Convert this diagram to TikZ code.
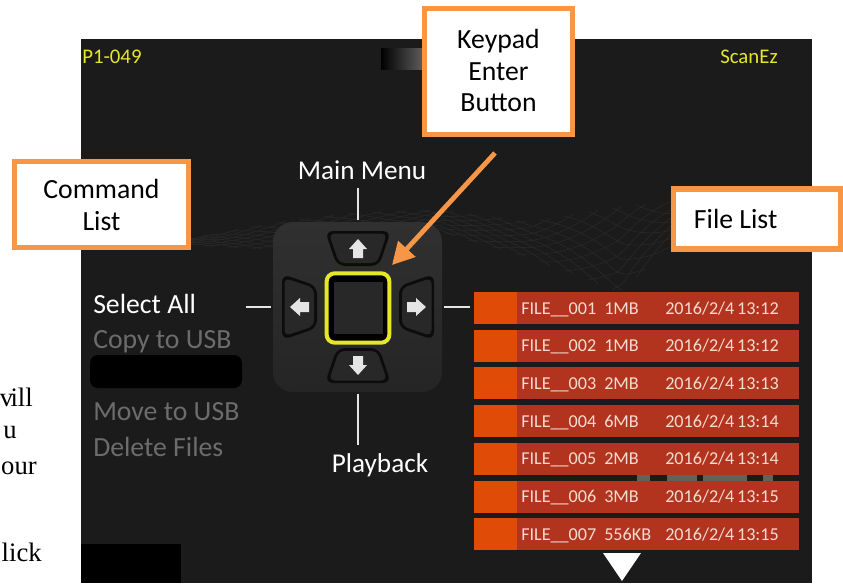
\documentclass[tikz,border=0pt]{standalone}
\usepackage{fontspec}
\setmainfont{Carlito}
\newfontfamily\timesf{Liberation Serif}
\usetikzlibrary{arrows.meta,calc}
\definecolor{screen}{HTML}{1B1B1B}
\definecolor{callorange}{HTML}{F79646}
\definecolor{rowred}{HTML}{B2341F}
\definecolor{rowsq}{HTML}{E04C08}
\definecolor{rowtxt}{HTML}{F5DCD0}
\definecolor{yel}{HTML}{E6E62A}
\definecolor{menugray}{HTML}{6C6C6C}
\definecolor{mesh}{HTML}{2A2A2A}
\definecolor{padtop}{HTML}{303030}
\definecolor{padbot}{HTML}{252525}
\definecolor{btnfill}{HTML}{282828}
\definecolor{btnedge}{HTML}{0C0C0C}
\pgfmathdeclarefunction{topedge}{1}{\pgfmathparse{#1<280?238-(#1-190)/90*16:(#1<360?222-(#1-280)/80*10:(#1<440?212-(#1-360)/80*2:(#1<530?210+(#1-440)/90*12:(#1<620?222-(#1-530)/90*16:206-(#1-620)/100*8))))}}
\pgfmathdeclarefunction{botedge}{1}{\pgfmathparse{#1<280?245+(#1-190)/90*5:(#1<440?250-(#1-280)/160*18:(#1<530?232+(#1-440)/90*26:(#1<620?258+(#1-530)/90*34:292-(#1-620)/100*90)))}}
\tikzset{
  callout/.style={draw=callorange,line width=3.9pt,fill=white,align=center,font=\fontsize{20.8}{24}\selectfont,text=black,inner sep=0pt},
  scrlabel/.style={text=white,font=\fontsize{20.4}{24}\selectfont,inner sep=0pt},
  menuitem/.style={anchor=west,text=menugray,font=\fontsize{20.8}{24}\selectfont,inner sep=0pt},
  stub/.style={draw=white!90!black,line width=1.9pt},
  rowtext/.style={anchor=base west,text=rowtxt,font=\fontsize{13.6}{16}\selectfont,inner sep=0pt},
  yellabel/.style={text=yel,font=\fontsize{15.6}{18}\selectfont,inner sep=0pt},
  btnouter/.style={fill=btnedge,rounded corners=6pt},
  btninner/.style={fill=btnfill,rounded corners=4pt},
  arrowglyph/.style={fill=white!90!black,draw=none},
  serif/.style={anchor=east,text=black,font=\timesf\fontsize{20}{24}\selectfont,inner sep=0pt},
  meshline/.style={draw=mesh,line width=.4pt}
}
\begin{document}
\begin{tikzpicture}[x=.75pt,y=-.75pt]
\useasboundingbox (0,0) rectangle (843,583);
\fill[white] (0,0) rectangle (843,583);
% text left by the crop of the page behind the screen
\node[serif] (t1) at (33,397) {v\kern-2pt ill};
\node[serif] (t2) at (17,433) {u};
\node[serif] (t3) at (37,468) {our};
\node[serif] (t4) at (42,552) {lick};
% screen
\fill[screen] (81,39) rectangle (812,583);
% mesh background
\begin{scope}
\clip (190,190) rectangle (720,293);
\foreach \o in {60,84,...,640}{
  \draw[meshline] plot[domain=\o:\o+130,samples=14,smooth]
    (\x,{topedge(\x)+(botedge(\x)-topedge(\x))*(\x-\o)/130});
  \draw[meshline] plot[domain=\o:\o+130,samples=14,smooth]
    (\x,{botedge(\x)+(topedge(\x)-botedge(\x))*(\x-\o)/130});
}
\end{scope}
% gradient block at the top
\shade[left color=black,right color=screen!70!white] (381,48) rectangle (424,69);
% top labels
\node[yellabel,anchor=west] (pid) at (82,57) {P1-049};
\node[yellabel,anchor=east] (mode) at (778,57) {ScanEz};
% keypad
\shade[top color=padtop,bottom color=padbot,rounded corners=15pt] (273,222) rectangle (442,392);
\coordinate (cc) at (358,307);
\node[scrlabel] (main) at (362,170) {Main Menu};
\node[scrlabel] (play) at (380,465) {Playback};
\coordinate (padt) at (358,220);
\coordinate (padb) at (358,394);
\coordinate (padl) at (271,307);
\coordinate (padr) at (444,307);
\coordinate (maint) at (358,188);
\coordinate (playt) at (358,445);
\coordinate (sell) at (246,307);
\coordinate (filel) at (470,307);
\draw[stub] (maint) -- (padt);
\draw[stub] (padb) -- (playt);
\draw[stub] (sell) -- (padl);
\draw[stub] (padr) -- (filel);
\foreach \r in {0,90,180,270}{
  \begin{scope}[shift={(cc)},rotate=\r]
    \fill[btnouter] (-33,-76) -- (33,-76) -- (21,-41) -- (-21,-41) -- cycle;
    \fill[btninner] (-29,-73.5) -- (29,-73.5) -- (19,-44) -- (-19,-44) -- cycle;
    \fill[arrowglyph] (0,-68) -- (9,-58) -- (5,-58) -- (5,-49) -- (-5,-49) -- (-5,-58) -- (-9,-58) -- cycle;
  \end{scope}
}
\node[draw=yel,line width=3pt,fill=black,rounded corners=6pt,minimum width=47pt,minimum height=52pt,inner sep=0pt] (enter) at (358,308) {};
\fill[btnfill] (334,282) rectangle (383,334);
% command list
\node[anchor=west,text=white,font=\fontsize{20.8}{24}\selectfont,inner sep=0pt] (sel) at (93,304) {Select All};
\node[menuitem] (m2) at (93,342) {Copy to USB};
\node[menuitem] (m4) at (93,412) {Move to USB};
\node[menuitem] (m5) at (93,447) {Delete Files};
\fill[black,rounded corners=6pt] (90,355) rectangle (242,388);
\fill[black] (81,544) rectangle (181,583);
% picture behind the rows
\foreach \a/\b in {637/650,667/697,703/747,763/773}{
  \fill[black!62!white] (\a,470) rectangle (\b,490);
}
% file rows
\foreach \n/\sz/\dt [count=\i from 0] in {FILE\_\_001/1MB/2016\slash 2\slash 4\hspace{2pt}13:12,FILE\_\_002/1MB/2016\slash 2\slash 4\hspace{2pt}13:12,FILE\_\_003/2MB/2016\slash 2\slash 4\hspace{2pt}13:13,FILE\_\_004/6MB/2016\slash 2\slash 4\hspace{2pt}13:14,FILE\_\_005/2MB/2016\slash 2\slash 4\hspace{2pt}13:14,FILE\_\_006/3MB/2016\slash 2\slash 4\hspace{2pt}13:15,FILE\_\_007/556KB/2016\slash 2\slash 4\hspace{2pt}13:15}{
  \pgfmathsetmacro\yy{292+37.7*\i}
  \fill[rowred] (474,\yy) rectangle (799,\yy+32);
  \fill[rowsq] (474,\yy) rectangle (517,\yy+32);
  \node[rowtext] (fn\i) at (521,\yy+22) {\n};
  \node[rowtext] (fs\i) at (604,\yy+22) {\sz};
  \node[rowtext] (fd\i) at (665,\yy+22) {\dt};
}
\fill[white] (603,553) -- (641,553) -- (622,581) -- cycle;
% callouts
\node[callout,minimum width=111pt,minimum height=95pt] (keypad) at (498.5,71.5) {\raisebox{3pt}{Keypad}\\[-.5pt]\raisebox{2pt}{Enter}\\[-1pt]\raisebox{2pt}{Button}};
\node[callout,minimum width=130pt,minimum height=65pt] (cmd) at (101.5,204.5) {Command\\List};
\node[callout,minimum width=125pt,minimum height=45pt] (flist) at (757,219) {\hspace*{-32pt}File List};
\coordinate (astart) at (495,153);
\coordinate (atip) at (392,265);
\draw[callorange,line width=3.6pt,-{Triangle[length=16.5pt,width=17pt]}] (astart) -- (atip);
\end{tikzpicture}
\end{document}
